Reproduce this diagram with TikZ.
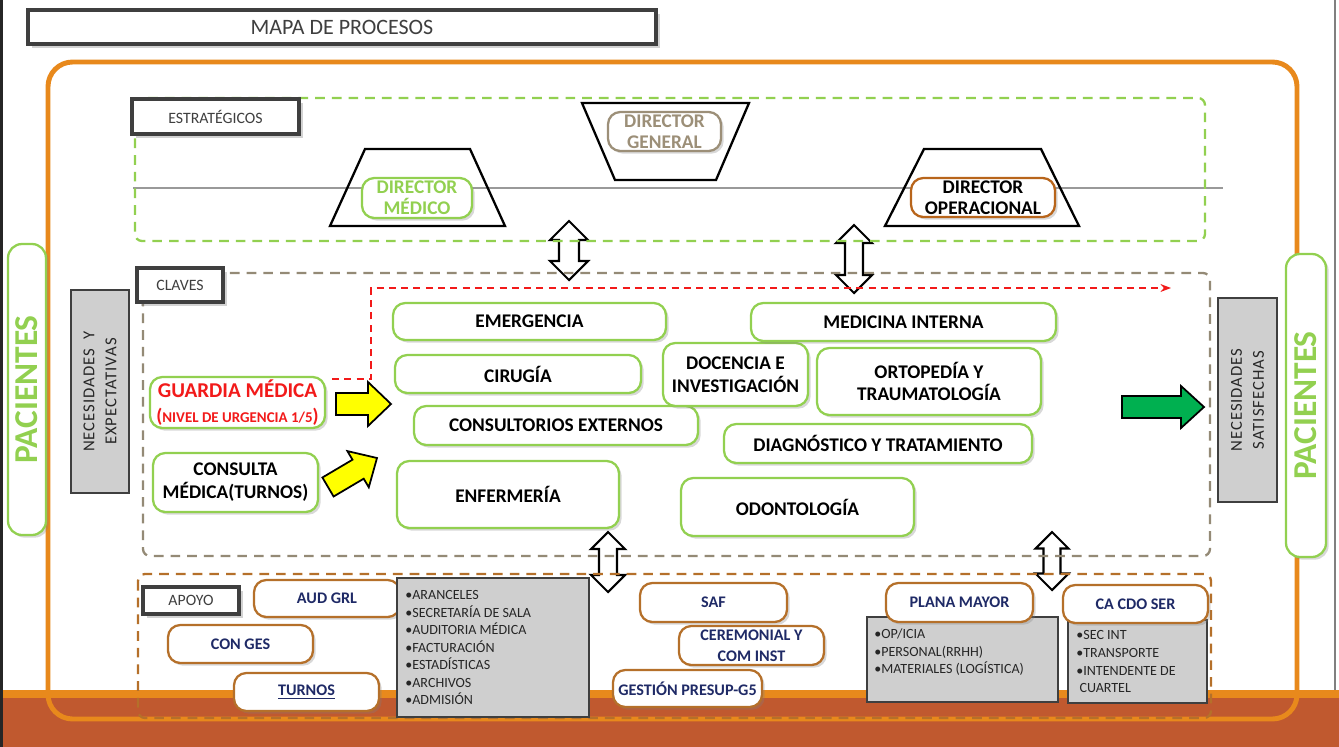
\documentclass[tikz,border=0pt]{standalone}
\usepackage{fontspec}
\setmainfont{Carlito}
\usetikzlibrary{shadows,arrows.meta}

\definecolor{naranja}{HTML}{E8891C}
\definecolor{ladrillo}{HTML}{C0592F}
\definecolor{verde}{HTML}{92D050}
\definecolor{verdeflecha}{HTML}{00B050}
\definecolor{taupe}{HTML}{948A76}
\definecolor{cafe}{HTML}{B5702A}
\definecolor{marino}{HTML}{1F2A66}
\definecolor{grisclaro}{HTML}{CFCFCF}
\definecolor{grisoscuro}{HTML}{3F3F3F}
\definecolor{dirgeneral}{HTML}{9C8F78}
\definecolor{diroperac}{HTML}{B8651B}
\definecolor{amarillo}{HTML}{FFFF00}
\definecolor{rojo}{HTML}{F21A1A}

\tikzset{
  sombra/.style={drop shadow={shadow xshift=1.5pt, shadow yshift=-1.5pt, opacity=0.3}},
  caja/.style={rounded corners=7pt, fill=white, inner sep=0pt, align=center,
    font=\bfseries\fontsize{11}{13}\selectfont, sombra},
  clave/.style={caja, draw=verde, line width=1.3pt},
  director/.style={caja, line width=1.3pt, font=\bfseries\fontsize{11}{12}\selectfont},
  apoyo/.style={caja, draw=cafe, line width=1.3pt, text=marino,
    font=\bfseries\fontsize{9.2}{12}\selectfont},
  etiqueta/.style={draw=grisoscuro, line width=2pt, fill=white, inner sep=0pt,
    text=grisoscuro, font=\fontsize{9}{11}\selectfont,
    drop shadow={shadow xshift=2pt, shadow yshift=-2pt, opacity=0.35}},
  lista/.style={draw=grisoscuro, fill=grisclaro, line width=0.8pt, inner sep=0pt},
  listatexto/.style={anchor=north west, inner sep=0pt, align=left, text=black!85,
    font=\fontsize{8}{10}\selectfont},
  necesidad/.style={draw=grisoscuro, fill=grisclaro, line width=0.8pt, inner sep=0pt},
  necesidadtexto/.style={rotate=90, align=center, text=black!85,
    font=\fontsize{9.5}{12.5}\selectfont\addfontfeature{LetterSpace=6}},
  paciente/.style={draw=verde, line width=1.3pt, rounded corners=8pt, fill=white, inner sep=0pt, sombra},
  pacientetexto/.style={rotate=90, text=verde, font=\bfseries\fontsize{19}{21}\selectfont},
  trapecio/.style={draw=black, line width=1.3pt},
  seccion/.style={line width=1.3pt, dash pattern=on 5.5pt off 4pt, rounded corners=4pt},
  flecha doble/.style={draw=black, line width=1.2pt, fill=white},
  flecha bloque/.style={draw=black, line width=1pt}
}

% caja por esquinas (en px): estilo, nombre, x1, y1, x2, y2, texto
\newcommand{\caja}[7]{%
  \node[#1, minimum width={(#5-#3)*0.02cm}, minimum height={(#6-#4)*0.02cm}]
    (#2) at ({(#3+#5)/2},{(#4+#6)/2}) {#7};}

% flecha doble vertical: x, y arriba, y abajo, medio ancho del cuerpo, medio ancho de la punta
\newcommand{\flechadoble}[5]{%
  \draw[flecha doble] (#1,#2) -- (#1+#5,#2+#5) -- (#1+#4,#2+#5) -- (#1+#4,#3-#5)
    -- (#1+#5,#3-#5) -- (#1,#3) -- (#1-#5,#3-#5) -- (#1-#4,#3-#5)
    -- (#1-#4,#2+#5) -- (#1-#5,#2+#5) -- cycle;}

\begin{document}
\begin{tikzpicture}[x=0.02cm, y=-0.02cm]
  \useasboundingbox (0,0) rectangle (1339,747);

  % fondo y franja inferior
  \fill[white] (0,0) rectangle (1339,747);
  \fill[ladrillo] (0,692) rectangle (1339,747);
  \fill[naranja] (0,690) rectangle (1339,698);
  \fill[black!85] (0,0) rectangle (3,747);
  \draw[gray, line width=0.6pt] (1335,0) -- (1335,690);

  % titulo
  \caja{etiqueta, line width=2.4pt, font=\fontsize{12.5}{14}\selectfont}{titulo}{28}{10}{656}{44}{MAPA DE PROCESOS}

  % marco general
  \draw[naranja, line width=2.8pt, rounded corners=14pt] (48,62) rectangle (1297,719);

  % flechas dobles entre niveles
  \flechadoble{569}{221}{280}{10}{19}
  \flechadoble{854}{225}{293}{9}{18}
  \flechadoble{608}{532}{592}{9}{17}
  \flechadoble{1052}{532}{590}{8.5}{16.5}

  % estrategicos
  \draw[gray!80, line width=0.6pt] (133,188) -- (1223,188);
  \draw[seccion, verde] (135,98) rectangle (1205,241);
  \caja{etiqueta}{estrategicos}{132}{99}{299}{134}{ESTRATÉGICOS}

  \draw[trapecio] (365,149) -- (470,149) -- (505,226) -- (330,226) -- cycle;
  \draw[trapecio] (582,103) -- (749,103) -- (716,180) -- (615,180) -- cycle;
  \draw[trapecio] (924,149) -- (1041,149) -- (1079,226) -- (885,226) -- cycle;

  \caja{director, draw=verde, text=verde}{dir medico}{362}{178}{472}{218}{DIRECTOR\\MÉDICO}
  \caja{director, draw=dirgeneral, text=dirgeneral}{dir general}{608}{112}{721}{151}{DIRECTOR\\GENERAL}
  \caja{director, draw=diroperac, text=black}{dir operacional}{911}{178}{1055}{217}{DIRECTOR\\OPERACIONAL}

  % claves
  \draw[seccion, taupe] (143,273) rectangle (1210,556);
  \caja{etiqueta}{claves}{137}{268}{223}{302}{CLAVES}

  \caja{clave, text=rojo, font=\bfseries\fontsize{12}{13}\selectfont}{guardia}{150}{377}{325}{428}
    {GUARDIA MÉDICA\\[1pt]{\fontsize{8.5}{10}\selectfont{\fontsize{11}{10}\selectfont(}NIVEL DE URGENCIA 1/5{\fontsize{11}{10}\selectfont)}}}
  \caja{clave}{consulta}{153}{453}{318}{512}{CONSULTA\\MÉDICA(TURNOS)}

  \caja{clave}{emergencia}{393}{303}{666}{340}{EMERGENCIA}
  \caja{clave}{cirugia}{395}{355}{641}{393}{CIRUGÍA}
  \caja{clave}{consultorios}{414}{406}{698}{445}{CONSULTORIOS EXTERNOS}
  \caja{clave}{enfermeria}{397}{461}{619}{528}{ENFERMERÍA}
  \caja{clave}{docencia}{663}{343}{808}{406}{DOCENCIA E\\INVESTIGACIÓN}
  \caja{clave}{medicina}{751}{303}{1056}{341}{MEDICINA INTERNA}
  \caja{clave}{ortopedia}{817}{348}{1041}{415}{ORTOPEDÍA Y\\TRAUMATOLOGÍA}
  \caja{clave}{diagnostico}{724}{424}{1032}{463}{DIAGNÓSTICO Y TRATAMIENTO}
  \caja{clave}{odontologia}{681}{478}{914}{536}{ODONTOLOGÍA}

  % flujo de guardia
  \coordinate (fin guardia) at (1171,288);
  \draw[rojo, line width=0.9pt, dash pattern=on 4pt off 3pt, -{Stealth[length=6pt,width=4.5pt]}]
    ([shift={(6,3)}]guardia.north east) -| (371,288) -- (fin guardia);

  % flechas de entrada y salida
  \draw[flecha bloque, fill=amarillo] (336,393) -- (368,393) -- (368,382) -- (391,404)
    -- (368,426) -- (368,415) -- (336,415) -- cycle;
  \draw[flecha bloque, fill=amarillo] (333.6,496.5) -- (363.7,478.7) -- (368.8,487.3)
    -- (377,458) -- (347.4,451.1) -- (352.5,459.7) -- (322.4,477.5) -- cycle;
  \draw[flecha bloque, fill=verdeflecha] (1122,396) -- (1181,396) -- (1181,386) -- (1204,407)
    -- (1181,428) -- (1181,418) -- (1122,418) -- cycle;

  % pacientes y necesidades
  \caja{paciente}{pac izq}{8}{244}{46}{535}{}
  \node[pacientetexto] (pac izq texto) at (pac izq) {PACIENTES};
  \caja{paciente}{pac der}{1286}{254}{1326}{557}{}
  \node[pacientetexto] (pac der texto) at (pac der) {PACIENTES};

  \caja{necesidad}{nec entrada}{71}{290}{129}{493}{}
  \node[necesidadtexto] (nec entrada texto) at (nec entrada) {NECESIDADES~~Y\\EXPECTATIVAS};
  \caja{necesidad}{nec salida}{1218}{298}{1277}{502}{}
  \node[necesidadtexto] (nec salida texto) at (nec salida) {NECESIDADES\\SATISFECHAS};

  % apoyo
  \draw[seccion, cafe] (138,574) rectangle (1211,718);
  \caja{etiqueta}{apoyo}{143}{587}{239}{614}{APOYO}

  \caja{apoyo}{aud grl}{254}{580}{400}{617}{AUD GRL}
  \caja{apoyo}{con ges}{168}{625}{313}{663}{CON GES}
  \caja{apoyo}{turnos}{234}{673}{379}{711}{\underline{TURNOS}}

  \caja{lista}{lista aud}{397}{578}{589}{717}{}
  \node[listatexto] (lista aud texto) at (405,590)
    {•ARANCELES\\•SECRETARÍA DE SALA\\•AUDITORIA MÉDICA\\•FACTURACIÓN\\•ESTADÍSTICAS\\•ARCHIVOS\\•ADMISIÓN};

  \caja{apoyo}{saf}{640}{583}{787}{622}{SAF}
  \caja{apoyo}{ceremonial}{679}{626}{824}{665}{CEREMONIAL Y\\COM INST}
  \caja{apoyo}{gestion}{613}{670}{762}{707}{GESTIÓN PRESUP-G5}

  \caja{lista}{lista plana}{867}{617}{1058}{702}{}
  \node[listatexto] (lista plana texto) at (874,628.5)
    {•OP/ICIA\\•PERSONAL(RRHH)\\•MATERIALES (LOGÍSTICA)};
  \caja{apoyo}{plana}{886}{583}{1033}{622}{PLANA MAYOR}

  \caja{lista}{lista cdo}{1068}{620}{1207}{703}{}
  \node[listatexto] (lista cdo texto) at (1076,630.5)
    {•SEC INT\\•TRANSPORTE\\•INTENDENTE DE\\\ CUARTEL};
  \caja{apoyo}{ca cdo}{1063}{585}{1208}{623}{CA CDO SER}
\end{tikzpicture}
\end{document}
